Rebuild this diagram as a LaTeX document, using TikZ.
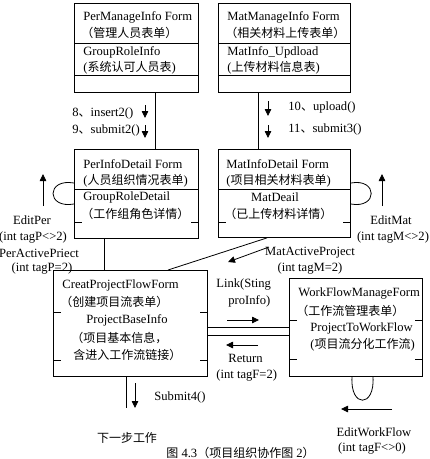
\documentclass[tikz,border=0pt]{standalone}
\usepackage{fontspec}
\setmainfont{Liberation Serif}
\newfontfamily\cjk{Noto Sans CJK SC}
\usetikzlibrary{arrows.meta}
\newcommand{\zh}[1]{{\cjk\fontsize{12}{14}\selectfont #1}}
\begin{document}
\begin{tikzpicture}[x=1pt,y=-1pt,line width=0.8pt,
  box/.style={draw,rectangle,anchor=north west,inner sep=0pt,line width=0.9pt},
  lbl/.style={anchor=west,inner sep=0pt,font=\fontsize{12.6}{14}\selectfont},
  clbl/.style={anchor=center,inner sep=0pt,font=\fontsize{12.6}{14}\selectfont},
  arr/.style={-{Triangle[length=7pt,width=6.5pt]}}]
\useasboundingbox (0,0) rectangle (430,459);
% boxes
\node[box,minimum width=124pt,minimum height=89pt] (b1) at (74,3) {};
\node[box,minimum width=132pt,minimum height=89pt] (b2) at (218,3) {};
\node[box,minimum width=124pt,minimum height=89pt] (b3) at (74,149) {};
\node[box,minimum width=132pt,minimum height=88pt] (b4) at (218,149) {};
\node[box,minimum width=154pt,minimum height=106pt] (b5) at (53,270) {};
\node[box,minimum width=133pt,minimum height=98pt] (b6) at (289,278) {};
% dividers
\draw (b1.west |- 0,43) -- (b1.east |- 0,43);
\draw (b1.west |- 0,75) -- (b1.east |- 0,75);
\draw (b2.west |- 0,43) -- (b2.east |- 0,43);
\draw (b2.west |- 0,75) -- (b2.east |- 0,75);
\draw (b3.west |- 0,189) -- (b3.east |- 0,189);
\draw (b4.west |- 0,189) -- (b4.east |- 0,189);
\foreach \n/\y in {b3/222,b4/222,b5/312,b5/360,b6/320,b6/359}{
  \draw (\n.west |- 0,\y) -- ++(8,0);
  \draw (\n.east |- 0,\y) -- ++(-8,0);
}
% box texts
\node[lbl] (t1a) at (83,17) {PerManageInfo Form};
\node[lbl] (t1b) at (81,33) {\zh{（管理人员表单）}};
\node[lbl] (t1c) at (83,52) {GroupRoleInfo};
\node[lbl] (t1d) at (83,68) {(\zh{系统认可人员表})};
\node[lbl] (t2a) at (227,17) {MatManageInfo Form};
\node[lbl] (t2b) at (225,33) {\zh{（相关材料上传表单）}};
\node[lbl] (t2c) at (227,52) {MatInfo\_Updload};
\node[lbl] (t2d) at (227,68) {(\zh{上传材料信息表})};
\node[lbl] (t3a) at (83,164) {PerInfoDetail Form};
\node[lbl] (t3b) at (83,181) {(\zh{人员组织情况表单})};
\node[lbl] (t3c) at (83,197) {GroupRoleDetail};
\node[lbl] (t3d) at (81,214) {\zh{（工作组角色详情）}};
\node[lbl] (t4a) at (226,164) {MatInfoDetail Form};
\node[lbl] (t4b) at (226,181) {(\zh{项目相关材料表单})};
\node[clbl] (t4c) at (275,197) {MatDeail};
\node[lbl] (t4d) at (224,214) {\zh{（已上传材料详情）}};
\node[lbl] (t5a) at (62,285) {CreatProjectFlowForm};
\node[lbl] (t5b) at (60,302) {\zh{（创建项目流表单）}};
\node[lbl] (t5c) at (86,320) {ProjectBaseInfo};
\node[lbl] (t5d) at (71,338) {\zh{（项目基本信息，}};
\node[lbl] (t5e) at (73,355) {\zh{含进入工作流链接）}};
\node[lbl] (t6a) at (298,293) {WorkFlowManageForm};
\node[lbl] (t6b) at (296,311) {\zh{（工作流管理表单）}};
\node[lbl] (t6c) at (310,328) {ProjectToWorkFlow};
\node[lbl] (t6d) at (310,345) {(\zh{项目流分化工作流})};
% connectors between boxes
\coordinate (x1) at (155,0);
\coordinate (x2) at (258,0);
\coordinate (x3) at (104,0);
\draw (b1.south -| x1) -- (b3.north -| x1);
\draw (b2.south -| x2) -- (b4.north -| x2);
\draw (b3.south -| x3) -- (b5.north -| x3);
\draw (b4.south -| 267,0) -- (b5.north -| 168,0);
\draw (b5.east |- 0,327) -- (b6.west |- 0,327);
\draw (b5.east |- 0,335) -- (b6.west |- 0,335);
% self loops
\draw (b3.west |- 0,183) .. controls (46,178) and (46,209) .. (b3.west |- 0,204);
\draw (b4.east |- 0,183) .. controls (378,178) and (378,209) .. (b4.east |- 0,204);
\draw (b6.south -| 352,0) .. controls (350,408) and (375,408) .. (b6.south -| 373,0);
% small arrows
\coordinate (a1s) at (145,105); \coordinate (a1e) at (145,118);
\coordinate (a2s) at (145,125); \coordinate (a2e) at (145,138);
\coordinate (a3s) at (268,101); \coordinate (a3e) at (268,116);
\coordinate (a4s) at (268,125); \coordinate (a4e) at (268,138);
\coordinate (a5s) at (43,206); \coordinate (a5e) at (43,174);
\coordinate (a6s) at (382,206); \coordinate (a6e) at (382,174);
\coordinate (a7s) at (269,247); \coordinate (a7e) at (228,262);
\coordinate (a8s) at (227,320); \coordinate (a8e) at (259,320);
\coordinate (a9s) at (258,345); \coordinate (a9e) at (226,345);
\coordinate (a10s) at (392,409); \coordinate (a10e) at (341,409);
\coordinate (a11s) at (135,383); \coordinate (a11e) at (135,408);
\coordinate (sub) at (126,408);
\foreach \a in {1,...,11}{\draw[arr] (a\a s) -- (a\a e);}
\draw (b5.south -| sub) -- (sub);
% labels
\node[lbl] (l8) at (72,113) {8\zh{、}insert2()};
\node[lbl] (l9) at (72,130) {9\zh{、}submit2()};
\node[lbl] (l10) at (288,107) {10\zh{、}upload()};
\node[lbl] (l11) at (288,129) {11\zh{、}submit3()};
\node[clbl] (le1) at (32,220) {EditPer};
\node[clbl] (le2) at (33,237) {(int tagP<>2)};
\node[clbl] (le3) at (39,253) {PerActivePriect};
\node[clbl] (le4) at (42,268) {(int tagP=2)};
\node[clbl] (lm1) at (391,220) {EditMat};
\node[clbl] (lm2) at (393,237) {(int tagM<>2)};
\node[clbl] (lm3) at (310,253) {MatActiveProject};
\node[clbl] (lm4) at (310,268) {(int tagM=2)};
\node[lbl] (lk1) at (216,284) {Link(Sting};
\node[lbl] (lk2) at (228,301) {proInfo)};
\node[lbl] (lr1) at (228,358) {Return};
\node[lbl] (lr2) at (216,375) {(int tagF=2)};
\node[clbl] (lw1) at (374,432) {EditWorkFlow};
\node[clbl] (lw2) at (372,448) {(int tagF<>0)};
\node[lbl] (ls) at (154,397) {Submit4()};
\node[clbl] (ln) at (127,438) {\zh{下一步工作}};
\node[lbl] (cap) at (166,453) {\zh{图} 4.3\zh{（项目组织协作图} 2\zh{）}};
\end{tikzpicture}
\end{document}
